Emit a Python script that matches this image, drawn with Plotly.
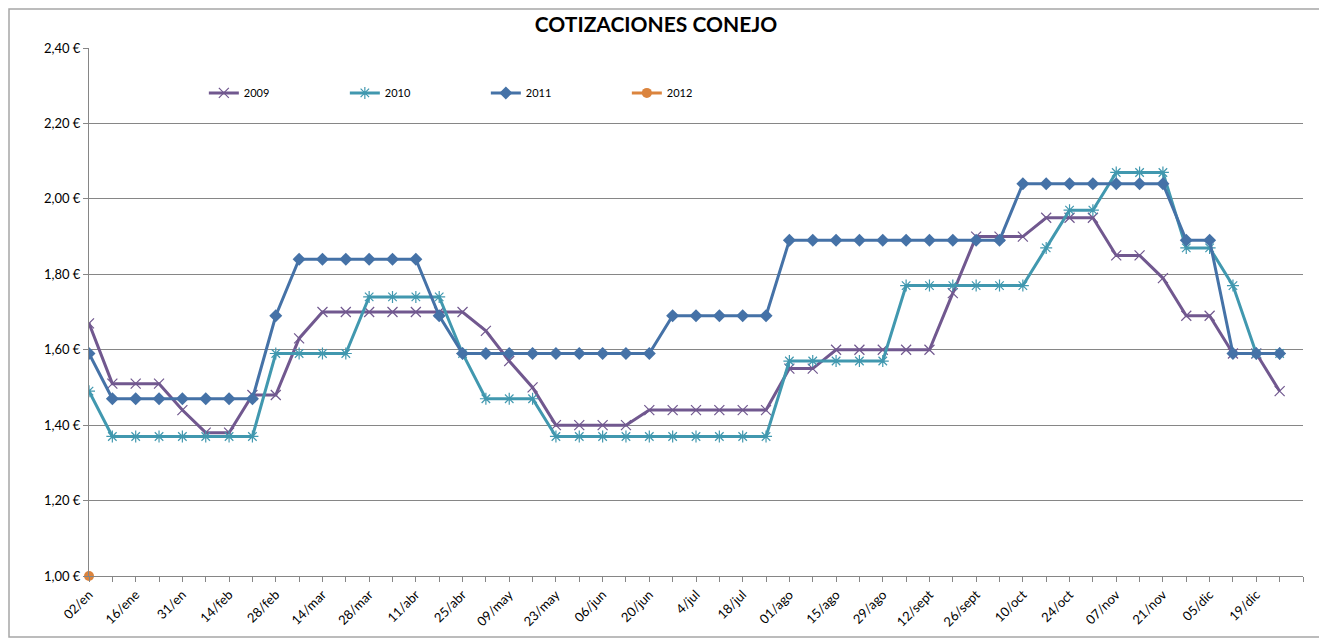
import plotly.graph_objects as go

categories = ["02/en", "16/ene", "31/en", "14/feb", "28/feb", "14/mar", "28/mar", "11/abr",
              "25/abr", "09/may", "23/may", "06/jun", "20/jun", "4/jul", "18/jul", "01/ago",
              "15/ago", "29/ago", "12/sept", "26/sept", "10/oct", "24/oct", "07/nov", "21/nov",
              "05/dic", "19/dic"]
label_positions = list(range(0, 52, 2))
weeks = list(range(52))

s2009 = [1.67, 1.51, 1.51, 1.51, 1.44, 1.38, 1.38, 1.48, 1.48, 1.63,
         1.70, 1.70, 1.70, 1.70, 1.70, 1.70, 1.70, 1.65, 1.57, 1.50,
         1.40, 1.40, 1.40, 1.40, 1.44, 1.44, 1.44, 1.44, 1.44, 1.44,
         1.55, 1.55, 1.60, 1.60, 1.60, 1.60, 1.60, 1.75, 1.90, 1.90,
         1.90, 1.95, 1.95, 1.95, 1.85, 1.85, 1.79, 1.69, 1.69, 1.59,
         1.59, 1.49]
s2010 = [1.49, 1.37, 1.37, 1.37, 1.37, 1.37, 1.37, 1.37, 1.59, 1.59,
         1.59, 1.59, 1.74, 1.74, 1.74, 1.74, 1.59, 1.47, 1.47, 1.47,
         1.37, 1.37, 1.37, 1.37, 1.37, 1.37, 1.37, 1.37, 1.37, 1.37,
         1.57, 1.57, 1.57, 1.57, 1.57, 1.77, 1.77, 1.77, 1.77, 1.77,
         1.77, 1.87, 1.97, 1.97, 2.07, 2.07, 2.07, 1.87, 1.87, 1.77,
         1.59, 1.59]
s2011 = [1.59, 1.47, 1.47, 1.47, 1.47, 1.47, 1.47, 1.47, 1.69, 1.84,
         1.84, 1.84, 1.84, 1.84, 1.84, 1.69, 1.59, 1.59, 1.59, 1.59,
         1.59, 1.59, 1.59, 1.59, 1.59, 1.69, 1.69, 1.69, 1.69, 1.69,
         1.89, 1.89, 1.89, 1.89, 1.89, 1.89, 1.89, 1.89, 1.89, 1.89,
         2.04, 2.04, 2.04, 2.04, 2.04, 2.04, 2.04, 1.89, 1.89, 1.59,
         1.59, 1.59]
s2012 = [1.00]

FONT = "Lato"
GRID = "#868686"

W, H = 1317, 631
L, R, T, B = 81, 22, 40, 63
PW, PH = W - L - R, H - T - B

fig = go.Figure()
fig.add_trace(go.Scatter(x=weeks, y=s2009, name="2009", mode="lines+markers",
                         line=dict(color="#71588F", width=3),
                         marker=dict(symbol="x-thin-open", size=10,
                                     line=dict(color="#8E78AE", width=1.2))))
fig.add_trace(go.Scatter(x=weeks, y=s2010, name="2010", mode="lines+markers",
                         line=dict(color="#4198AF", width=3),
                         marker=dict(symbol="asterisk-open", size=10,
                                     line=dict(color="#4FB0C8", width=1.2))))
fig.add_trace(go.Scatter(x=weeks, y=s2011, name="2011", mode="lines+markers",
                         line=dict(color="#4572A7", width=3),
                         marker=dict(symbol="diamond", size=10, color="#4572A7")))
fig.add_trace(go.Scatter(x=weeks[:len(s2012)], y=s2012, name="2012", mode="lines+markers",
                         line=dict(color="#DB843D", width=3), cliponaxis=False,
                         marker=dict(symbol="circle", size=10, color="#DB843D")))

fig.update_layout(
    width=W, height=H,
    margin=dict(l=L, r=R, t=T, b=B),
    paper_bgcolor="white", plot_bgcolor="white",
    separators=", ",
    font=dict(family=FONT, size=13, color="#000000"),
    title=dict(text="<b>COTIZACIONES CONEJO</b>", x=648 / W, xanchor="center",
               y=1 - 17 / H, yanchor="middle", font=dict(family=FONT, size=21, color="#000000")),
    showlegend=True,
    legend=dict(orientation="h", x=0.0946, xanchor="left", y=0.915, yanchor="middle",
                font=dict(family=FONT, size=11), entrywidth=96, entrywidthmode="pixels",
                bgcolor="rgba(0,0,0,0)", itemwidth=30),
    xaxis=dict(range=[0, 52], tickmode="array", tickvals=label_positions, ticktext=categories,
               tickangle=-45, showgrid=False, zeroline=False, automargin=False,
               showline=True, linecolor=GRID, linewidth=1,
               ticks="outside", ticklen=5, tickcolor=GRID,
               minor=dict(tickmode="linear", tick0=0, dtick=1, ticks="outside",
                          ticklen=5, tickcolor=GRID),
               tickfont=dict(family=FONT, size=13)),
    yaxis=dict(range=[1.0, 2.4], dtick=0.2, tick0=1.0, tickformat=".2f", ticksuffix=" €",
               showgrid=True, gridcolor=GRID, gridwidth=1, zeroline=False, automargin=False,
               showline=True, linecolor=GRID, linewidth=1,
               ticks="outside", ticklen=5, tickcolor=GRID,
               tickfont=dict(family=FONT, size=13)),
    shapes=[dict(type="rect", xref="paper", yref="paper",
                 x0=(1 - L) / PW, x1=(W - 1 - L) / PW,
                 y0=(T + PH - (H - 2)) / PH, y1=(T + PH - 1) / PH,
                 line=dict(color="#A6A6A6", width=1.5), layer="below")],
)

fig.write_html("out.html")
